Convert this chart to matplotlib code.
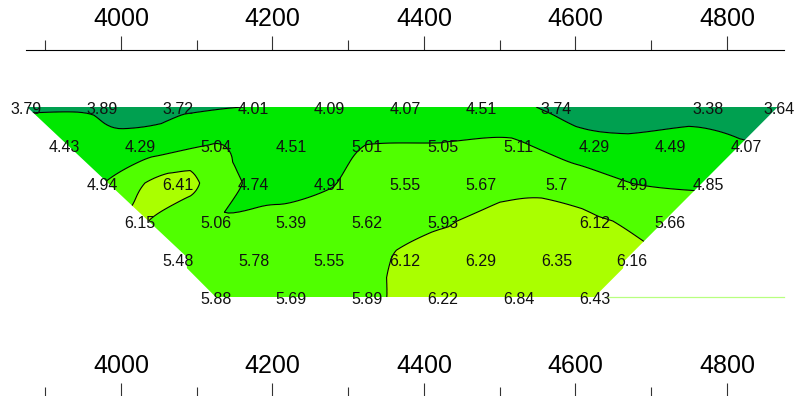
import numpy as np
import matplotlib
matplotlib.use("Agg")
import matplotlib.pyplot as plt
import matplotlib.tri as mtri
from matplotlib.patches import Polygon

plt.rcParams['font.family'] = ['Liberation Sans', 'DejaVu Sans']

# ---- data: positions (m) and values per depth level ----
row1_x = [3875, 3975, 4075, 4175, 4275, 4375, 4475, 4575, 4775, 4875]
row1_v = [3.79, 3.89, 3.72, 4.01, 4.09, 4.07, 4.51, 3.74, 3.38, 3.64]
row2_x = [3925, 4025, 4125, 4225, 4325, 4425, 4525, 4625, 4725, 4825]
row2_v = [4.43, 4.29, 5.04, 4.51, 5.01, 5.05, 5.11, 4.29, 4.49, 4.07]
row3_x = [3975, 4075, 4175, 4275, 4375, 4475, 4575, 4675, 4775]
row3_v = [4.94, 6.41, 4.74, 4.91, 5.55, 5.67, 5.7, 4.99, 4.85]
row4_x = [4025, 4125, 4225, 4325, 4425, 4625, 4725]
row4_v = [6.15, 5.06, 5.39, 5.62, 5.93, 6.12, 5.66]
row5_x = [4075, 4175, 4275, 4375, 4475, 4575, 4675]
row5_v = [5.48, 5.78, 5.55, 6.12, 6.29, 6.35, 6.16]
row6_x = [4125, 4225, 4325, 4425, 4525, 4625]
row6_v = [5.88, 5.69, 5.89, 6.22, 6.84, 6.43]
# unlabelled point (estimated from the contour shape)
hidden_x = [4525]
hidden_level = [4]
hidden_v = [6.3]

rows_x = [row1_x, row2_x, row3_x, row4_x, row5_x, row6_x]
rows_v = [row1_v, row2_v, row3_v, row4_v, row5_v, row6_v]

levels = [0, 4, 5, 6, 10]
fill_colors = ['#00A050', '#00E800', '#50FF00', '#AAFF00']

tick_major = [4000, 4200, 4400, 4600, 4800]
tick_minor = [3900, 4100, 4300, 4500, 4700]

# outline of the coloured area (data coords: x, level)
outline_x = [3876, 4087, 4087, 4108, 4639, 4663, 4663, 4867]
outline_y = [1.0, 4.95, 5.34, 6.0, 6.0, 5.34, 5.08, 1.0]

W, H = 797, 396
fig = plt.figure(figsize=(W / 100, H / 100), dpi=100)
fig.patch.set_facecolor('white')

px_per_unit = 0.7575
left_px = 26.3
width_px = 1000 * px_per_unit

ax = fig.add_axes([left_px / W, (H - 297) / H, width_px / W, 190 / H])
ax.set_xlim(3875, 4875)
ax.set_ylim(6, 1)
ax.axis('off')

xs, ys, vs = [], [], []
for lvl, (rx, rv) in enumerate(zip(rows_x, rows_v), start=1):
    xs += rx
    ys += [lvl] * len(rx)
    vs += rv
xs += hidden_x
ys += hidden_level
vs += hidden_v
xs = np.array(xs, float)
ys = np.array(ys, float)
vs = np.array(vs, float)

tri = mtri.Triangulation(xs / 100.0, ys)
refiner = mtri.UniformTriRefiner(tri)
tri_r, v_cub = refiner.refine_field(vs, subdiv=4)
_, v_lin = refiner.refine_field(vs, triinterpolator=mtri.LinearTriInterpolator(tri, vs), subdiv=4)
v_r = 0.45 * v_cub + 0.55 * v_lin
tri_plot = mtri.Triangulation(tri_r.x * 100.0, tri_r.y, tri_r.triangles)

clip = Polygon(np.column_stack([outline_x, outline_y]), closed=True,
               transform=ax.transData, facecolor='none', edgecolor='none')
ax.add_patch(clip)

cf = ax.tricontourf(tri_plot, v_r, levels=levels, colors=fill_colors, antialiased=True)
cf.set_clip_path(clip)
cl = ax.tricontour(tri_plot, v_r, levels=[4, 5, 6], colors='black', linewidths=0.8)
cl.set_clip_path(clip)

# thin light line at the bottom-right edge
ax.plot([4640, 4875], [6, 6], color='#B8FF80', lw=0.9, clip_on=False)

for lvl, (rx, rv) in enumerate(zip(rows_x, rows_v), start=1):
    for x, v in zip(rx, rv):
        dx = -3.5 if x >= 4870 else 0
        ax.annotate(f"{v:g}", (x, lvl), xytext=(dx, -1.5), textcoords='offset points',
                    ha='center', va='center', fontsize=11.5, color='#111111',
                    annotation_clip=False)


def make_axis(y_px):
    a = fig.add_axes([left_px / W, (H - y_px) / H, width_px / W, 0.0001])
    a.set_xlim(3875, 4875)
    a.patch.set_visible(False)
    for s in ['bottom', 'left', 'right']:
        a.spines[s].set_visible(False)
    a.spines['top'].set_linewidth(0.8)
    a.xaxis.tick_top()
    a.set_yticks([])
    a.set_xticks(tick_major)
    a.set_xticks(tick_minor, minor=True)
    a.set_xticklabels([str(t) for t in tick_major])
    a.tick_params(axis='x', which='major', direction='out', length=10, width=0.8,
                  color='#333333', labelsize=18, pad=4)
    a.tick_params(axis='x', which='minor', direction='out', length=7, width=0.8,
                  color='#333333')
    return a


make_axis(50)
make_axis(397)

fig.savefig('out.png', dpi=100, facecolor='white')
